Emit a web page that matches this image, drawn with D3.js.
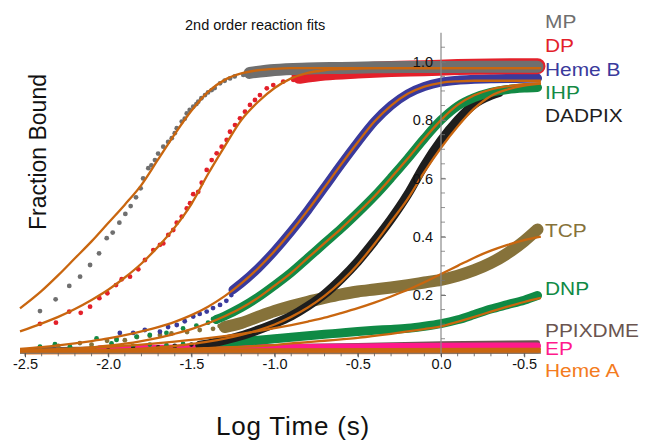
<!DOCTYPE html>
<html><head><meta charset="utf-8">
<script src="https://cdn.jsdelivr.net/npm/d3@7"></script>
<style>
body{margin:0;background:#fff}
svg{display:block}
text{font-family:"Liberation Sans",Arial,Helvetica,sans-serif}
</style>
</head><body>
<svg id="chart" width="645" height="440"></svg>
<script>
// ---- axis ticks ----
const xTickValues = [-2.5, -2.0, -1.5, -1.0, -0.5, 0.0, 0.5];
const xTickLabels = ["-2.5", "-2.0", "-1.5", "-1.0", "-0.5", "0.0", "-0.5"];
const yTickValues = [0.2, 0.4, 0.6, 0.8, 1.0];

// ---- fitted curves, sampled on a shared log-time grid ----
const fitX = [-2.53,-2.4,-2.3,-2.2,-2.1,-2.0,-1.9,-1.8,-1.7,-1.6,-1.5,-1.4,-1.3,-1.2,-1.1,-1.0,-0.9,-0.8,-0.7,-0.6,-0.5,-0.4,-0.3,-0.2,-0.1,0,0.1,0.2,0.3,0.4,0.5,0.6];
const mpFit = [.154,.214,.268,.326,.384,.447,.51,.578,.665,.752,.832,.897,.938,.96,.971,.976,.978,.978,.978,.978,.978,.978,.978,.978,.978,.978,.978,.978,.978,.978,.978,.978];
const dpFit = [.075,.102,.125,.152,.183,.218,.26,.308,.366,.432,.512,.615,.71,.8,.862,.91,.943,.962,.971,.975,.977,.978,.978,.978,.978,.978,.978,.978,.978,.978,.978,.978];
const hemeBFit = [.015,.021,.027,.034,.042,.051,.062,.075,.09,.108,.131,.16,.196,.24,.291,.351,.418,.491,.569,.648,.724,.795,.85,.89,.915,.928,.933,.935,.935,.935,.935,.935];
const ihpFit = [.007,.009,.012,.016,.02,.026,.033,.042,.053,.067,.083,.103,.127,.155,.19,.232,.276,.327,.378,.428,.482,.539,.602,.668,.737,.8,.852,.885,.905,.916,.923,.927];
const dadpixFit = [.003,.004,.005,.006,.008,.01,.013,.016,.02,.025,.032,.04,.05,.063,.079,.099,.125,.157,.197,.246,.305,.375,.452,.53,.622,.705,.778,.84,.883,.905,.918,.925];
const tcpFit = [.01,.012,.014,.016,.019,.022,.026,.03,.035,.04,.046,.052,.059,.067,.076,.086,.097,.109,.122,.138,.155,.174,.195,.218,.244,.272,.3,.328,.352,.372,.388,.4];
const dnpFit = [.004,.005,.006,.007,.008,.009,.01,.012,.013,.015,.016,.018,.02,.022,.025,.028,.034,.038,.043,.048,.053,.06,.067,.075,.083,.092,.108,.125,.143,.16,.176,.19];
const flatFitX = [-2.53, 0.6];
const ppixFit = [.008, .01];
const epFit = [.012, .015];
const hemeAFit = [.003, .004];

// ---- measured points: sparse early-time scatter ----
const mpDotX = [-2.41,-2.316,-2.234,-2.169,-2.109,-2.055,-2.009,-1.973,-1.933,-1.897,-1.865,-1.833,-1.805,-1.79,-1.759,-1.74,-1.719,-1.7,-1.669,-1.64,-1.618,-1.6,-1.588,-1.558,-1.54,-1.528,-1.51,-1.489,-1.47,-1.459,-1.44,-1.418,-1.4,-1.378,-1.36,-1.328,-1.3,-1.268,-1.24,-1.188,-1.16,-1.108];
const mpDotY = [.145,.185,.231,.263,.303,.343,.395,.414,.448,.478,.505,.535,.566,.6,.635,.645,.663,.685,.709,.725,.738,.755,.772,.795,.805,.823,.835,.846,.855,.863,.875,.886,.895,.903,.91,.926,.935,.943,.95,.955,.957,.961];
const dpDotX = [-2.41,-2.314,-2.234,-2.165,-2.109,-2.053,-2.005,-1.953,-1.919,-1.869,-1.819,-1.779,-1.729,-1.689,-1.669,-1.639,-1.609,-1.588,-1.558,-1.528,-1.508,-1.489,-1.459,-1.438,-1.408,-1.378,-1.348,-1.318,-1.288,-1.268,-1.238,-1.208,-1.178,-1.148,-1.118,-1.088,-1.047,-1.008,-0.948,-0.888,-0.807];
const dpDotY = [.101,.105,.143,.139,.16,.189,.206,.234,.254,.263,.288,.32,.354,.372,.377,.406,.423,.448,.469,.497,.515,.546,.554,.585,.629,.663,.686,.709,.732,.76,.783,.806,.829,.852,.869,.886,.909,.92,.932,.938,.943];
const hemeBDotX = [-1.93,-1.85,-1.78,-1.689,-1.64,-1.588,-1.54,-1.489,-1.45,-1.408,-1.37,-1.328,-1.29,-1.26];
const hemeBDotY = [.07,.07,.08,.074,.09,.097,.11,.126,.135,.143,.155,.166,.18,.2];
const ihpDotX = [-2.07,-1.95,-1.83,-1.75,-1.65,-1.55,-1.47,-1.4,-1.37];
const ihpDotY = [.051,.046,.057,.063,.07,.085,.095,.105,.118];
const dadpixDotX = [-2.0,-1.85,-1.7,-1.6,-1.5];
const dadpixDotY = [.01,.015,.02,.025,.03];
const tcpDotX = [-2.41,-2.3,-2.17,-2.1,-2.007,-1.95,-1.9,-1.827,-1.75,-1.689,-1.62,-1.526,-1.45,-1.37,-1.33];
const tcpDotY = [.018,.025,.035,.03,.043,.05,.045,.056,.06,.063,.068,.073,.08,.084,.094];
const dnpDotX = [-2.41,-2.32,-2.23,-2.1,-1.98,-1.85,-1.75,-1.65,-1.55,-1.45,-1.38];
const dnpDotY = [.023,.031,.023,.02,.034,.025,.03,.028,.032,.033,.035];
const epDotX = [-2.41,-2.3,-2.2,-2.1];
const epDotY = [.01,.013,.011,.014];

// ---- measured points: centre of the dense later-time cloud ----
const mpBandX = [-1.15,-1.0,-0.8,-0.6,-0.4,-0.2,0,0.2,0.4,0.58];
const mpBandY = [.962,.972,.977,.979,.981,.982,.982,.983,.983,.983];
const dpBandX = [-0.85,-0.7,-0.5,-0.3,-0.1,0.1,0.3,0.58];
const dpBandY = [.952,.963,.97,.975,.978,.982,.984,.985];
const hemeBBandX = [-1.25,-1.2,-1.1,-1.0,-0.9,-0.8,-0.7,-0.6,-0.5,-0.4,-0.3,-0.2,-0.1,0,0.1,0.2,0.3,0.45,0.58];
const hemeBBandY = [.218,.24,.291,.351,.418,.491,.569,.648,.724,.795,.85,.89,.915,.93,.937,.94,.942,.943,.944];
const ihpBandX = [-1.35,-1.3,-1.2,-1.1,-1.0,-0.9,-0.8,-0.7,-0.6,-0.5,-0.4,-0.3,-0.2,-0.1,0,0.1,0.2,0.3,0.4,0.5,0.58];
const ihpBandY = [.116,.128,.157,.192,.233,.277,.327,.378,.428,.482,.539,.602,.668,.737,.8,.848,.877,.895,.905,.91,.912];
const dadpixBandX = [-1.45,-1.4,-1.3,-1.2,-1.1,-1.0,-0.9,-0.8,-0.7,-0.6,-0.5,-0.4,-0.3,-0.2,-0.1,0,0.1,0.2,0.3,0.35];
const dadpixBandY = [.028,.032,.045,.06,.08,.102,.128,.162,.203,.255,.315,.385,.46,.545,.645,.73,.8,.855,.885,.895];
const tcpBandX = [-1.3,-1.2,-1.1,-1.0,-0.9,-0.8,-0.7,-0.6,-0.5,-0.4,-0.3,-0.2,-0.1,0,0.1,0.2,0.3,0.4,0.5,0.58];
const tcpBandY = [.09,.104,.125,.145,.162,.177,.19,.202,.212,.219,.226,.234,.243,.252,.266,.285,.31,.343,.385,.425];
const dnpBandX = [-1.35,-1.2,-1.1,-1.0,-0.9,-0.8,-0.7,-0.6,-0.5,-0.4,-0.3,-0.2,-0.1,0,0.1,0.2,0.3,0.4,0.5,0.58];
const dnpBandY = [.038,.041,.045,.05,.055,.06,.065,.07,.075,.079,.082,.086,.093,.102,.115,.133,.152,.167,.182,.198];
const ppixBandX = [-2.45,-1.5,-0.5,0,0.58];
const ppixBandY = [.012,.018,.027,.033,.036];
const epBandX = [-2.05,-1.5,-1.0,-0.5,0,0.58];
const epBandY = [.016,.018,.02,.022,.024,.025];
const hemeABandX = [-2.5,-1.5,-0.5,0.58];
const hemeABandY = [.003,.004,.004,.005];

// ---- series table ----
const series = [
  {name:"MP",      color:"#6f6f6f", dx:mpDotX,  dy:mpDotY,  bx:mpBandX,  by:mpBandY,  bw:12, fx:fitX, fy:mpFit,     ly:28},
  {name:"DP",      color:"#e3202a", dx:dpDotX,  dy:dpDotY,  bx:dpBandX,  by:dpBandY,  bw:16, fx:fitX, fy:dpFit,     ly:52},
  {name:"Heme B",  color:"#3a3a9c", dx:hemeBDotX,dy:hemeBDotY,bx:hemeBBandX,by:hemeBBandY,bw:9, fx:fitX, fy:hemeBFit,ly:76},
  {name:"IHP",     color:"#138a45", dx:ihpDotX, dy:ihpDotY, bx:ihpBandX, by:ihpBandY, bw:9,  fx:fitX, fy:ihpFit,    ly:99},
  {name:"DADPIX",  color:"#1e1e1e", dx:dadpixDotX,dy:dadpixDotY,bx:dadpixBandX,by:dadpixBandY,bw:9, fx:fitX, fy:dadpixFit, ly:122},
  {name:"TCP",     color:"#86723a", dx:tcpDotX, dy:tcpDotY, bx:tcpBandX, by:tcpBandY, bw:12, fx:fitX, fy:tcpFit,    ly:237},
  {name:"DNP",     color:"#0f8a45", dx:dnpDotX, dy:dnpDotY, bx:dnpBandX, by:dnpBandY, bw:9,  fx:fitX, fy:dnpFit,    ly:295},
  {name:"PPIXDME", color:"#6a5550", dx:[],      dy:[],      bx:ppixBandX,by:ppixBandY,bw:5,  fx:flatFitX, fy:ppixFit, ly:337},
  {name:"EP",      color:"#ff1a8c", dx:epDotX,  dy:epDotY,  bx:epBandX,  by:epBandY,  bw:7,  fx:flatFitX, fy:epFit,   ly:355},
  {name:"Heme A",  color:"#f47b20", dx:[],      dy:[],      bx:hemeABandX,by:hemeABandY,bw:4, fx:flatFitX, fy:hemeAFit, ly:377}
];
// stacking of the measured clouds, bottom to top
const drawOrder = ["Heme A", "PPIXDME", "EP", "DNP", "TCP", "DADPIX", "IHP", "Heme B", "DP", "MP"];

const svg = d3.select("#chart");
const x = d3.scaleLinear().domain([-2.5, 0.5]).range([25, 524.2]);
const y = d3.scaleLinear().domain([0, 1]).range([353.3, 61.8]);
const FIT = "#c9660f";

const line = d3.line().x(d => x(d[0])).y(d => y(d[1])).curve(d3.curveMonotoneX);
const zip = (a, b) => a.map((v, i) => [v, b[i]]);
const byName = new Map(series.map(s => [s.name, s]));

// measured data
const dataG = svg.append("g");
drawOrder.map(n => byName.get(n)).forEach(s => {
  const g = dataG.append("g");
  g.append("path")
    .attr("d", line(zip(s.bx, s.by)))
    .attr("fill", "none").attr("stroke", s.color)
    .attr("stroke-width", s.bw)
    .attr("stroke-linecap", "round").attr("stroke-linejoin", "round");
  g.selectAll("circle").data(zip(s.dx, s.dy)).join("circle")
    .attr("cx", d => x(d[0])).attr("cy", d => y(d[1])).attr("r", 2.4)
    .attr("fill", s.color);
});

// fitted curves
const fitG = svg.append("g");
series.forEach(s => {
  fitG.append("path")
    .attr("d", line(zip(s.fx, s.fy)))
    .attr("fill", "none").attr("stroke", FIT).attr("stroke-width", 2.3);
});

// x axis
const x0 = -2.53, x1 = 0.6;
const xAxisG = svg.append("g").attr("transform", `translate(0,${y(0)})`);
xAxisG.append("line").attr("x1", x(x0)).attr("x2", x(x1)).attr("stroke", "#777").attr("stroke-width", 1);
xAxisG.call(d3.axisBottom(x).tickValues(xTickValues)
    .tickFormat((d, i) => xTickLabels[i]).tickSizeInner(4).tickSizeOuter(0).tickPadding(1))
  .call(g => g.select(".domain").remove())
  .call(g => g.selectAll(".tick line").attr("stroke", "#555"))
  .call(g => g.selectAll(".tick text").attr("font-size", 14.5).attr("fill", "#111")
    .attr("font-family", "'Liberation Sans', Arial, sans-serif"));
xAxisG.selectAll(".minor").data(d3.range(-25, 6).map(v => v / 10)).join("line")
  .attr("class", "minor")
  .attr("x1", d => x(d)).attr("x2", d => x(d)).attr("y1", 0).attr("y2", 3)
  .attr("stroke", "#555").attr("stroke-width", 0.8);

// y axis at log time 0
const yAxisG = svg.append("g").attr("transform", `translate(${x(0)},0)`);
yAxisG.append("line").attr("y1", y(0)).attr("y2", y(1.1)).attr("stroke", "#8a8a8a").attr("stroke-width", 1.2);
yAxisG.call(d3.axisLeft(y).tickValues(yTickValues).tickFormat(d3.format(".1f"))
    .tickSizeInner(-5).tickSizeOuter(0).tickPadding(8))
  .call(g => g.select(".domain").remove())
  .call(g => g.selectAll(".tick line").attr("stroke", "#777"))
  .call(g => g.selectAll(".tick text").attr("font-size", 14.5).attr("fill", "#111")
    .attr("font-family", "'Liberation Sans', Arial, sans-serif"));
yAxisG.selectAll(".minor").data(d3.range(1, 22).map(v => v * 0.05)).join("line")
  .attr("class", "minor")
  .attr("x1", 0).attr("x2", 4).attr("y1", d => y(d)).attr("y2", d => y(d))
  .attr("stroke", "#777").attr("stroke-width", 0.8);

// series names on the right
svg.append("g").selectAll("text").data(series).join("text")
  .attr("transform", d => `translate(545,${d.ly}) scale(1.1,1)`)
  .attr("font-size", 19).attr("fill", d => d.color)
  .text(d => d.name);

// titles
svg.append("text").attr("x", 185).attr("y", 30).attr("font-size", 14.5).attr("fill", "#111")
  .text("2nd order reaction fits");
svg.append("text").attr("transform", "translate(46,152) rotate(-90)")
  .attr("text-anchor", "middle").attr("font-size", 23).attr("fill", "#111")
  .text("Fraction Bound");
svg.append("text").attr("x", 293).attr("y", 435).attr("text-anchor", "middle")
  .attr("font-size", 26).attr("letter-spacing", 0.8).attr("fill", "#111")
  .text("Log Time (s)");
</script>
</body></html>
